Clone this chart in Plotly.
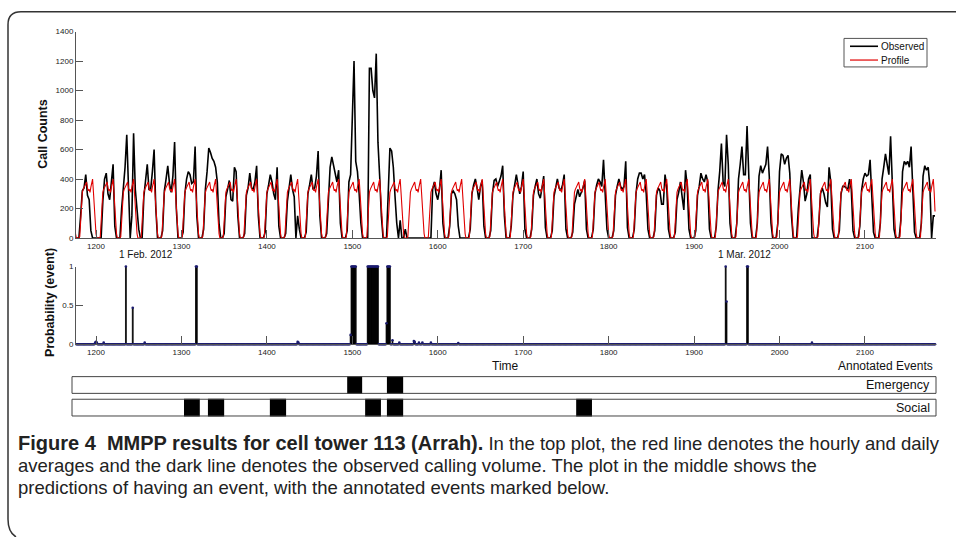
import plotly.graph_objects as go

# ---------------- data ----------------
day_start = 1176          # first hour of the series
n_days = 42
step_obs = 2              # observed sampled every 2 hours

# observed call counts, one row per day, values at hours 0,2,...,22 of that day
observed_rows = [
    [0, 0, 0, 150, 320, 340, 430, 290, 260, 50, 0, 0],
    [0, 0, 0, 0, 250, 400, 440, 300, 260, 380, 500, 80],
    [0, 0, 0, 200, 330, 480, 700, 300, 0, 150, 710, 330],
    [200, 60, 0, 0, 280, 380, 500, 330, 330, 450, 600, 200],
    [0, 0, 0, 50, 320, 400, 490, 370, 310, 420, 650, 200],
    [0, 0, 0, 40, 300, 400, 450, 430, 370, 380, 620, 150],
    [0, 0, 0, 60, 330, 450, 610, 580, 540, 520, 480, 380],
    [100, 0, 0, 30, 280, 330, 390, 260, 250, 480, 450, 150],
    [0, 0, 0, 30, 290, 340, 440, 340, 330, 380, 490, 150],
    [0, 0, 0, 40, 300, 360, 430, 380, 300, 260, 480, 80],
    [0, 0, 0, 30, 250, 340, 430, 330, 280, 0, 150, 60],
    [0, 0, 0, 40, 300, 360, 430, 330, 340, 420, 590, 150],
    [0, 0, 0, 30, 300, 480, 550, 490, 420, 380, 460, 100],
    [0, 0, 0, 50, 380, 430, 800, 1200, 520, 450, 300, 100],
    [0, 0, 0, 0, 1150, 1150, 1000, 950, 1250, 650, 420, 150],
    [0, 0, 0, 300, 610, 590, 480, 280, 100, 0, 120, 0],
    [0, 60, 0, 0, 0, 0, 0, 0, 0, 0, 0, 0],
    [0, 0, 0, 0, 0, 330, 380, 300, 260, 330, 460, 100],
    [0, 0, 0, 80, 300, 320, 300, 260, 80, 0, 0, 0],
    [0, 0, 0, 60, 300, 360, 400, 340, 260, 350, 390, 80],
    [0, 0, 0, 50, 300, 390, 400, 350, 380, 420, 490, 150],
    [0, 0, 0, 80, 290, 360, 430, 360, 300, 350, 450, 60],
    [0, 0, 0, 60, 290, 350, 400, 300, 270, 340, 420, 70],
    [0, 0, 0, 50, 280, 340, 400, 340, 320, 360, 430, 60],
    [0, 0, 0, 40, 230, 280, 330, 280, 310, 340, 390, 60],
    [0, 0, 0, 60, 300, 360, 400, 380, 350, 530, 320, 60],
    [0, 0, 0, 50, 290, 350, 400, 350, 330, 350, 520, 70],
    [0, 0, 0, 60, 300, 400, 440, 440, 400, 430, 300, 60],
    [0, 0, 0, 50, 290, 340, 320, 230, 230, 430, 350, 60],
    [0, 0, 0, 40, 260, 310, 380, 280, 190, 460, 350, 60],
    [0, 0, 0, 50, 290, 350, 440, 400, 380, 430, 380, 60],
    [0, 0, 0, 80, 320, 450, 640, 380, 350, 700, 500, 100],
    [0, 0, 0, 100, 400, 500, 620, 430, 430, 760, 450, 100],
    [0, 0, 0, 100, 420, 490, 440, 470, 500, 620, 420, 100],
    [0, 0, 0, 100, 450, 570, 560, 500, 540, 560, 440, 150],
    [0, 0, 0, 200, 330, 460, 380, 250, 300, 400, 430, 0],
    [0, 0, 0, 100, 300, 340, 300, 240, 210, 480, 380, 60],
    [0, 0, 0, 50, 300, 350, 350, 340, 330, 400, 330, 50],
    [0, 0, 0, 80, 320, 400, 440, 420, 430, 530, 300, 40],
    [0, 0, 0, 100, 400, 480, 570, 500, 430, 690, 400, 60],
    [0, 0, 0, 120, 450, 520, 500, 520, 480, 620, 300, 40],
    [0, 0, 0, 100, 420, 490, 460, 480, 350, 0, 150, 150],
]

# hourly profile (hour-of-day averages), hours 0..23 of each day
profile_hourly = [30, 0, 0, 0, 0, 10, 120, 250, 310, 330, 345, 360,
                  370, 380, 340, 320, 330, 310, 345, 385, 400, 310, 180, 80]

# event probability: hours with non-zero probability, and their values
prob_hours = [1199, 1200, 1201, 1209, 1235, 1243, 1257, 1317, 1318, 1436, 1437,
              1498, 1499, 1500, 1501, 1502, 1503, 1504,
              1518, 1519, 1520, 1521, 1522, 1523, 1524, 1525, 1526, 1527, 1528, 1529, 1530,
              1540, 1541, 1542, 1543, 1544, 1547, 1555, 1572, 1573, 1578, 1582, 1592, 1624,
              1937, 1938, 1962, 1963, 2038]
prob_values = [0.02, 0.03, 0.02, 0.02, 1.0, 0.47, 0.02, 1.0, 1.0, 0.03, 0.02,
               0.12, 1.0, 1.0, 1.0, 1.0, 1.0, 1.0,
               1.0, 1.0, 1.0, 1.0, 1.0, 1.0, 1.0, 1.0, 1.0, 1.0, 1.0, 1.0, 1.0,
               0.27, 1.0, 1.0, 1.0, 1.0, 0.05, 0.02, 0.04, 0.03, 0.02, 0.02, 0.02, 0.015,
               1.0, 0.55, 1.0, 1.0, 0.02]

# annotated events: (start hour, end hour)
emergency_start = [1494, 1540.5]
emergency_end = [1511.5, 1559.5]
social_start = [1303, 1331, 1403.5, 1515, 1540.5, 1762]
social_end = [1321.5, 1350, 1422.5, 1533.5, 1559.5, 1780.5]

x_ticks = [1200, 1300, 1400, 1500, 1600, 1700, 1800, 1900, 2000, 2100]
y_ticks_top = [0, 200, 400, 600, 800, 1000, 1200, 1400]
y_ticks_mid = [0, 0.5, 1]
y_ticktext_mid = ["0", "0.5", "1"]
series_names = ["Observed", "Profile"]

# ---------------- derived series ----------------
obs_t = [day_start + 24 * d + step_obs * j for d in range(n_days) for j in range(12)]
obs_v = [v for row in observed_rows for v in row]
last_hour = obs_t[-1]
hours = list(range(day_start, last_hour + 1))
prof_v = [profile_hourly[(h - day_start) % 24] for h in hours]
prob_map = dict(zip(prob_hours, prob_values))
prob_full = [prob_map.get(h, 0.0) for h in hours]

# ---------------- geometry helpers ----------------
W, H = 956, 537
def fx(p):
    return p / W
def fy(p):
    return 1 - p / H
PXH = 0.8544  # px per hour
def t_at(px):
    return 1200 + (px - 96) / PXH

FONT = "Liberation Sans, Arial, sans-serif"
AX = "#555555"
TICKF = dict(family=FONT, size=8, color="#222222")
OBS_COLOR = "black"
PROF_COLOR = "#e00000"

fig = go.Figure()

fig.add_trace(go.Scatter(x=obs_t, y=obs_v, mode="lines", name=series_names[0], showlegend=False,
                         line=dict(color=OBS_COLOR, width=1.6), xaxis="x", yaxis="y"))
fig.add_trace(go.Scatter(x=hours, y=prof_v, mode="lines", name=series_names[1], showlegend=False,
                         line=dict(color=PROF_COLOR, width=1.1), xaxis="x", yaxis="y"))

fig.add_trace(go.Bar(x=prob_hours, y=prob_values, width=1, showlegend=False,
                     marker=dict(color="black", line=dict(color="black", width=0.8)),
                     xaxis="x2", yaxis="y2"))
fig.add_trace(go.Scatter(x=hours, y=prob_full, mode="markers", showlegend=False,
                         marker=dict(color="#1c1c70", size=2.6, line=dict(width=0)),
                         cliponaxis=False, xaxis="x2", yaxis="y2"))

fig.add_trace(go.Bar(orientation="h", y=["Emergency"] * len(emergency_start),
                     base=emergency_start,
                     x=[e - s for s, e in zip(emergency_start, emergency_end)],
                     width=0.78, marker=dict(color="black", line=dict(width=0)),
                     showlegend=False, xaxis="x3", yaxis="y3"))
fig.add_trace(go.Bar(orientation="h", y=["Social"] * len(social_start),
                     base=social_start,
                     x=[e - s for s, e in zip(social_start, social_end)],
                     width=0.78, marker=dict(color="black", line=dict(width=0)),
                     showlegend=False, xaxis="x3", yaxis="y3"))

xr = [t_at(76), t_at(936)]
common_x = dict(range=xr, tickvals=x_ticks, ticks="inside", ticklen=8, tickcolor=AX,
                showline=True, linecolor=AX, linewidth=1, showgrid=False, zeroline=False,
                tickfont=TICKF, domain=[fx(76), fx(936)])

fig.update_layout(
    width=W, height=H, margin=dict(l=0, r=0, t=0, b=0),
    paper_bgcolor="white", plot_bgcolor="rgba(0,0,0,0)",
    font=dict(family=FONT, color="#111111"),
    barmode="overlay", showlegend=False,
    xaxis=dict(anchor="y", **common_x),
    yaxis=dict(anchor="x", domain=[fy(238), fy(28)], range=[0, 1400], tickvals=y_ticks_top,
               ticks="inside", ticklen=7, tickcolor=AX, showline=True, linecolor=AX,
               linewidth=1, showgrid=False, zeroline=False, tickfont=TICKF),
    xaxis2=dict(anchor="y2", **common_x),
    yaxis2=dict(anchor="x2", domain=[fy(346), fy(267)], range=[0, 1], tickvals=y_ticks_mid,
                ticktext=y_ticktext_mid, ticks="inside", ticklen=7, tickcolor=AX,
                showline=True, linecolor=AX, linewidth=1, showgrid=False, zeroline=False,
                tickfont=TICKF),
    xaxis3=dict(anchor="y3", domain=[fx(72), fx(936)], range=[t_at(72), t_at(936)],
                visible=False, showgrid=False, zeroline=False),
    yaxis3=dict(anchor="x3", domain=[fy(422), fy(376)], type="category",
                categoryorder="array", categoryarray=["Social", "Emergency"],
                range=[-0.5, 1.5], visible=False),
)

shapes = []
# annotated event boxes
for idx in (0, 1):
    shapes.append(dict(type="rect", xref="x3 domain", yref="y3", x0=0, x1=1,
                       y0=idx - 0.37, y1=idx + 0.37, line=dict(color="#444444", width=1),
                       fillcolor="rgba(0,0,0,0)", layer="above"))
# legend box and samples
shapes.append(dict(type="rect", xref="paper", yref="paper", x0=fx(844), x1=fx(927),
                   y0=fy(64), y1=fy(35), line=dict(color="#555555", width=1), fillcolor="white"))
shapes.append(dict(type="line", xref="paper", yref="paper", x0=fx(850), x1=fx(878),
                   y0=fy(43), y1=fy(43), line=dict(color=OBS_COLOR, width=1.6)))
shapes.append(dict(type="line", xref="paper", yref="paper", x0=fx(850), x1=fx(878),
                   y0=fy(57), y1=fy(57), line=dict(color=PROF_COLOR, width=1.2)))
# outer rounded frame of the figure
path = "M {} {} L {} {} Q {} {} {} {} L {} {} Q {} {} {} {}".format(
    fx(960), fy(8), fx(21), fy(8), fx(8), fy(8), fx(8), fy(21),
    fx(8), fy(524), fx(8), fy(537), fx(16), fy(542))
shapes.append(dict(type="path", xref="paper", yref="paper", path=path,
                   line=dict(color="#333333", width=1.5)))
fig.update_layout(shapes=shapes)

ann = []
def A(x, y, text, size, anchor="center", angle=0, family=FONT, color="#111111"):
    ann.append(dict(x=fx(x), y=fy(y), xref="paper", yref="paper", text=text,
                    showarrow=False, xanchor=anchor, yanchor="middle", textangle=angle,
                    font=dict(family=family, size=size, color=color)))

A(879, 43, series_names[0], 10, anchor="left")
A(879, 57, series_names[1], 10, anchor="left")
A(43, 133, "<b>Call Counts</b>", 12.5, angle=-90)
A(50, 304, "<b>Probability (event)</b>", 12.5, angle=-90)
A(146, 255, "1 Feb. 2012", 10)
A(744, 255, "1 Mar. 2012", 10)
A(505, 368, "Time", 12)
A(935, 368, "Annotated Events", 12, anchor="right")
ann.append(dict(x=0.995, y=1, xref="x3 domain", yref="y3", text="Emergency", showarrow=False,
                xanchor="right", yanchor="middle", font=dict(family=FONT, size=12.5, color="#111111")))
ann.append(dict(x=0.995, y=0, xref="x3 domain", yref="y3", text="Social", showarrow=False,
                xanchor="right", yanchor="middle", font=dict(family=FONT, size=12.5, color="#111111")))

CAP = "Liberation Sans, Arial, sans-serif"
CS = 18.5
A(16, 446, "<span style=\"font-size:20px\"><b>Figure 4&nbsp;&nbsp;MMPP results for cell tower 113 (Arrah).</b></span> In the top plot, the red line denotes the hourly and daily",
  CS, anchor="left", family=CAP, color="#222222")
A(16, 469, "averages and the dark line denotes the observed calling volume. The plot in the middle shows the",
  CS, anchor="left", family=CAP, color="#222222")
A(16, 492, "predictions of having an event, with the annotated events marked below.",
  CS, anchor="left", family=CAP, color="#222222")
fig.update_layout(annotations=ann)

fig.write_html("out.html", config={"displayModeBar": False},
               post_script="document.body.style.margin='0px';")
